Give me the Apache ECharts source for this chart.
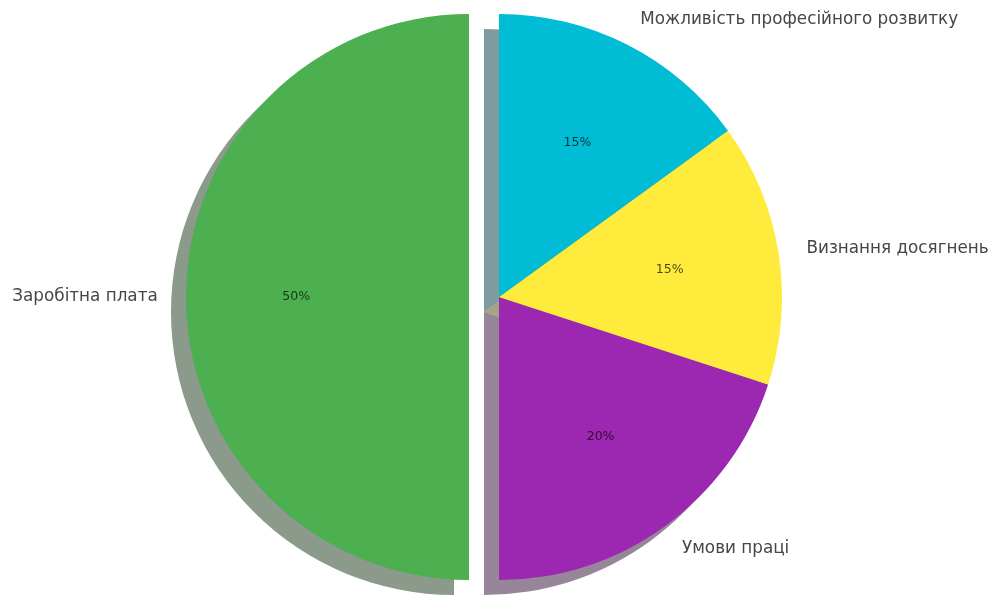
<!DOCTYPE html>
<html>
<head>
<meta charset="utf-8">
<script src="https://cdn.jsdelivr.net/npm/echarts@6/dist/echarts.min.js"></script>
<style>
  html, body { margin: 0; padding: 0; background: #ffffff; }
  #chart { width: 995px; height: 596px; }
</style>
</head>
<body>
<div id="chart"></div>
<script>
// Slices, counter-clockwise from 12 o'clock
const categories = [
  'Заробітна плата',
  'Умови праці',
  'Визнання досягнень',
  'Можливість професійного розвитку'
];
const shares = [50, 20, 15, 15];

// Styling
const sliceColors = ['#4CAF50', '#9C27B0', '#FFEB3B', '#00BCD4'];
const explodePx = [30, 0, 0, 0];        // how far each wedge is pulled out
const CENTER = [499, 297];
const RADIUS = 283;
const SHADOW_OFFSET = [-15, 15];
const LABEL_FONT = 'DejaVu Sans';

function shadowColor(hex) {
  const n = parseInt(hex.slice(1), 16);
  const r = Math.round(((n >> 16) & 255) * 0.3);
  const g = Math.round(((n >> 8) & 255) * 0.3);
  const b = Math.round((n & 255) * 0.3);
  return 'rgba(' + r + ',' + g + ',' + b + ',0.5)';
}

// Mid-angle of each wedge (degrees, counter-clockwise, starting at 90)
const total = shares.reduce((a, b) => a + b, 0);
const midAngles = [];
let acc = 0;
shares.forEach(v => {
  midAngles.push(90 + (acc + v / 2) / total * 360);
  acc += v;
});

function wedgeCenter(i, extra) {
  const a = midAngles[i] * Math.PI / 180;
  const ex = explodePx[i];
  return [
    CENTER[0] + ex * Math.cos(a) + (extra ? extra[0] : 0),
    CENTER[1] - ex * Math.sin(a) + (extra ? extra[1] : 0)
  ];
}

const hidden = {
  itemStyle: { color: 'transparent', borderWidth: 0 },
  label: { show: false },
  labelLine: { show: false }
};

// Builds a pie series in which only wedge `idx` is painted
function singleWedge(idx, opts) {
  return {
    type: 'pie',
    startAngle: 90,
    clockwise: false,
    center: opts.center,
    radius: opts.radius,
    silent: true,
    avoidLabelOverlap: false,
    emphasis: { disabled: true },
    animation: false,
    z: opts.z,
    data: categories.map((name, j) => {
      if (j !== idx) return Object.assign({ name, value: shares[j] }, hidden);
      return {
        name,
        value: shares[j],
        itemStyle: { color: opts.color, borderWidth: 0 },
        label: opts.label,
        labelLine: opts.labelLine
      };
    })
  };
}

const series = [];

// Drop shadows underneath everything
categories.forEach((_, i) => {
  series.push(singleWedge(i, {
    center: wedgeCenter(i, SHADOW_OFFSET),
    radius: RADIUS,
    color: shadowColor(sliceColors[i]),
    z: 1,
    label: { show: false },
    labelLine: { show: false }
  }));
});

// Coloured wedges with their category labels outside
categories.forEach((_, i) => {
  series.push(singleWedge(i, {
    center: wedgeCenter(i),
    radius: RADIUS,
    color: sliceColors[i],
    z: 2,
    label: {
      show: true,
      position: 'outside',
      formatter: '{b}',
      fontFamily: LABEL_FONT,
      fontSize: 16.8,
      color: '#464646',
      distanceToLabelLine: 0
    },
    labelLine: { show: false, length: RADIUS * 0.1, length2: 0 }
  }));
});

// Percentages at 0.6 of the radius
categories.forEach((_, i) => {
  series.push(singleWedge(i, {
    center: wedgeCenter(i),
    radius: [RADIUS * 0.2, RADIUS],
    color: 'transparent',
    z: 3,
    label: {
      show: true,
      position: 'inside',
      formatter: '{d}%',
      fontFamily: LABEL_FONT,
      fontSize: 12.5,
      color: 'rgba(0,0,0,0.7)'
    },
    labelLine: { show: false }
  }));
});

const chart = echarts.init(document.getElementById('chart'), null, { renderer: 'canvas' });
chart.setOption({
  backgroundColor: '#ffffff',
  animation: false,
  series
});
</script>
</body>
</html>
